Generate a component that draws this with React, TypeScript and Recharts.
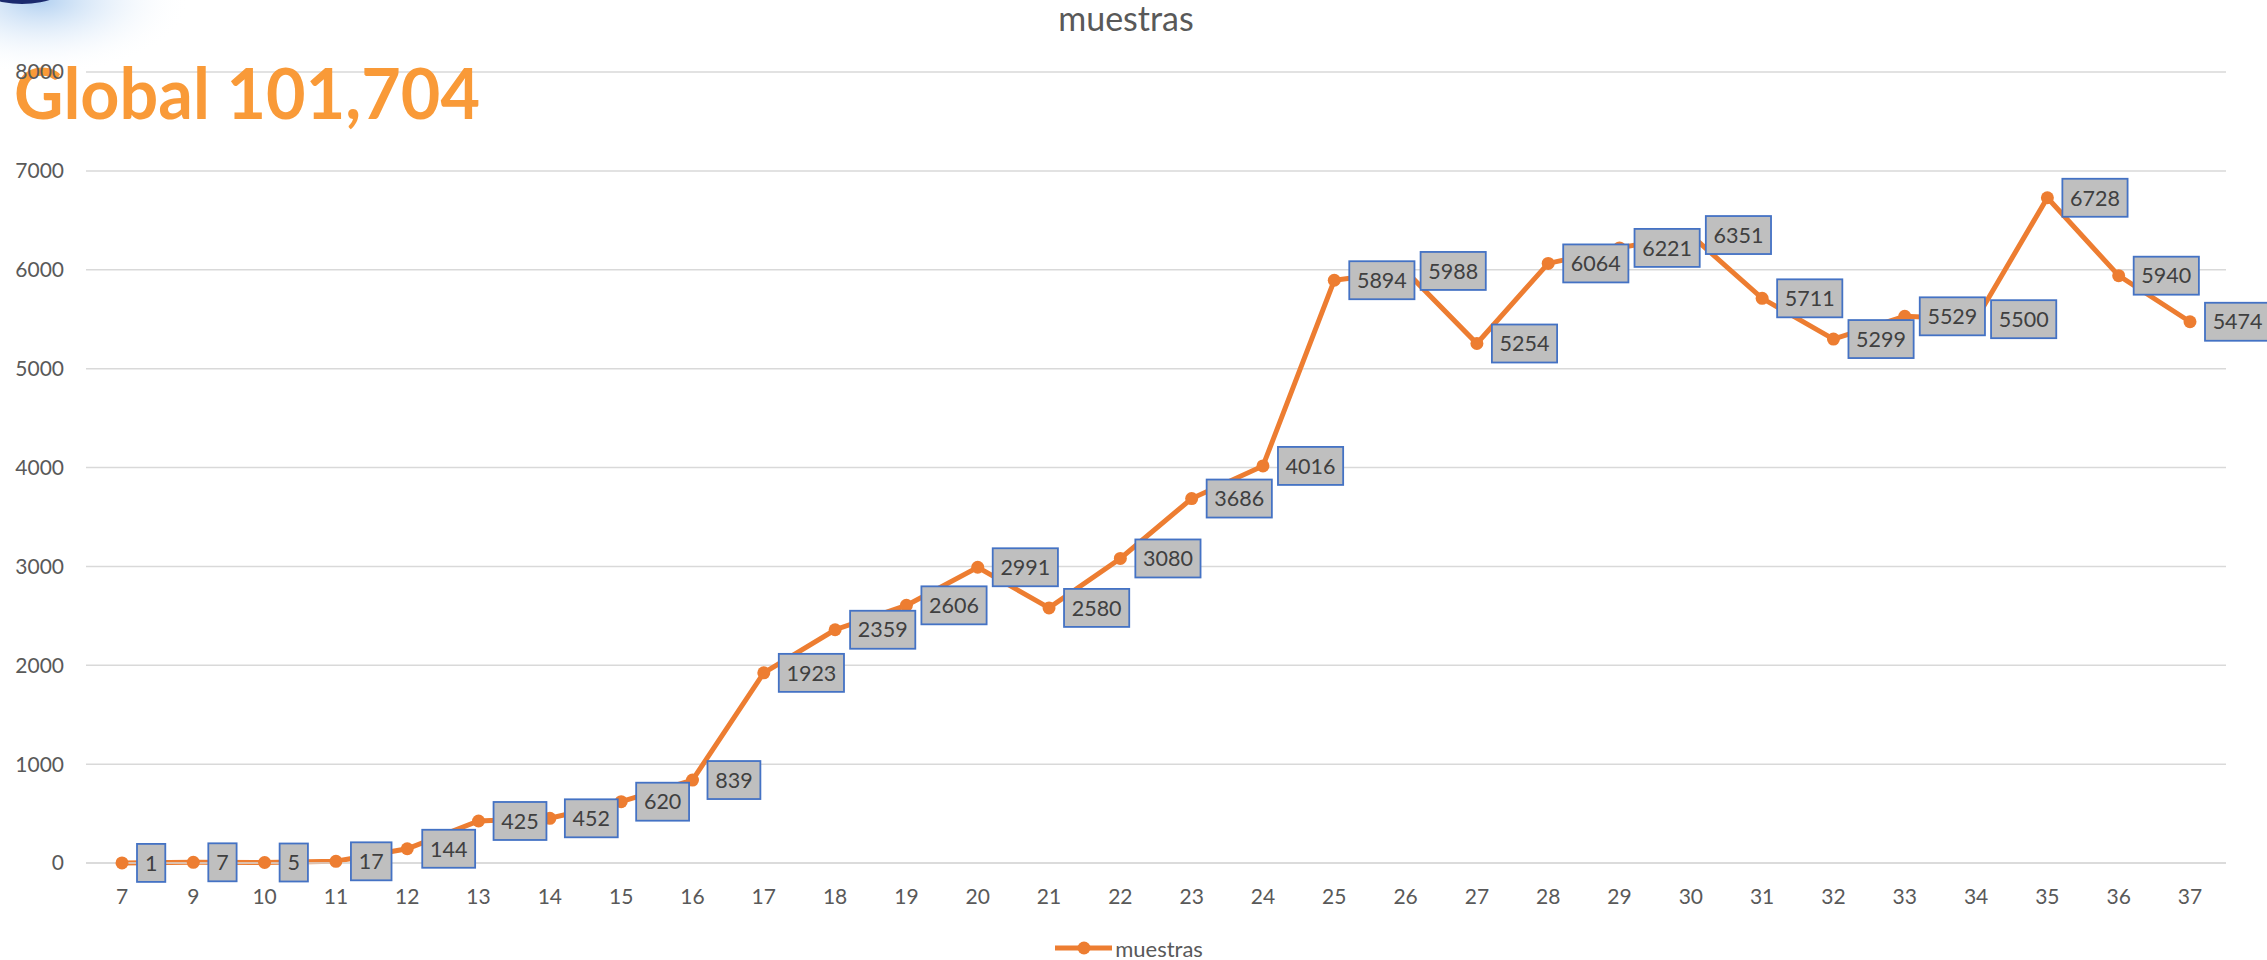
import { LineChart, Line, XAxis, YAxis, CartesianGrid, Legend, LabelList, Customized } from 'recharts';

// semanas epidemiológicas y muestras procesadas
const weeks = ['7', '9', '10', '11', '12', '13', '14', '15', '16', '17', '18', '19', '20', '21', '22', '23', '24', '25', '26', '27', '28', '29', '30', '31', '32', '33', '34', '35', '36', '37'];
const muestras = [1, 7, 5, 17, 144, 425, 452, 620, 839, 1923, 2359, 2606, 2991, 2580, 3080, 3686, 4016, 5894, 5988, 5254, 6064, 6221, 6351, 5711, 5299, 5529, 5500, 6728, 5940, 5474];
const yTicks = [0, 1000, 2000, 3000, 4000, 5000, 6000, 7000, 8000];

const chartTitle = 'muestras';
const globalLabel = 'Global 101,704';

const data = weeks.map((week, i) => ({ week, muestras: muestras[i] }));

const ORANGE = '#ED7D31';
const FONT = 'Lato, "Open Sans", sans-serif';

function ValueBox(props: any) {
  const x = typeof props.x === 'number' ? props.x : props.viewBox?.x;
  const y = typeof props.y === 'number' ? props.y : props.viewBox?.y;
  if (x == null || y == null) return null;
  const text = String(props.value);
  const w = text.length * 12.3 + 16;
  const h = 38;
  const bx = x + 15;
  return (
    <g>
      <rect x={bx} y={y - h / 2} width={w} height={h} fill="#BFBFBF" stroke="#4472C4" strokeWidth={1.8} />
      <text x={bx + w / 2} y={y} dy="0.36em" textAnchor="middle" fontSize={21.5} fill="#404040" fontFamily={FONT}>
        {text}
      </text>
    </g>
  );
}

function LegendBox() {
  return (
    <div style={{ display: 'flex', justifyContent: 'center', alignItems: 'center', height: 24, paddingLeft: 32, fontFamily: FONT, fontSize: 22, color: '#595959' }}>
      <svg width={57} height={14}>
        <line x1={0} y1={7} x2={57} y2={7} stroke={ORANGE} strokeWidth={5} />
        <circle cx={29} cy={7} r={6.5} fill={ORANGE} />
      </svg>
      <span style={{ marginLeft: 3 }}>{chartTitle}</span>
    </div>
  );
}

function Overlay() {
  return (
    <g>
      <defs>
        <radialGradient id="glow" cx="0.5" cy="0.5" r="0.5">
          <stop offset="0%" stopColor="#A9CBEF" stopOpacity={0.9} />
          <stop offset="100%" stopColor="#FFFFFF" stopOpacity={0} />
        </radialGradient>
      </defs>
      <ellipse cx={40} cy={0} rx={150} ry={75} fill="url(#glow)" />
      <ellipse cx={22} cy={-18} rx={48} ry={22} fill="#1B2A6E" />
      <text x={1126} y={31} textAnchor="middle" fontSize={34} fill="#595959" fontFamily={FONT}>
        {chartTitle}
      </text>
      <text x={14} y={119} fontSize={70} fontWeight={700} fill="#F99A38" fontFamily={FONT} textLength={466} lengthAdjust="spacingAndGlyphs">
        {globalLabel}
      </text>
    </g>
  );
}

export default function App() {
  return (
    <div style={{ position: 'absolute', left: 0, top: 0, width: 2267, height: 960, background: '#fff', fontFamily: FONT }}>
      <LineChart width={2267} height={960} data={data} margin={{ top: 72, right: 41, bottom: 0, left: 0 }}>
        <CartesianGrid vertical={false} stroke="#D9D9D9" strokeWidth={1.5} />
        <XAxis
          dataKey="week"
          type="category"
          height={73}
          padding={{ left: 36, right: 36 }}
          interval={0}
          tickLine={false}
          tickSize={0}
          tickMargin={26}
          axisLine={{ stroke: '#D9D9D9', strokeWidth: 1.5 }}
          tick={{ fontSize: 21, fill: '#595959', fontFamily: FONT }}
        />
        <YAxis
          width={86}
          domain={[0, 8000]}
          ticks={yTicks}
          interval={0}
          tickLine={false}
          axisLine={false}
          tickSize={0}
          tickMargin={22}
          tick={{ fontSize: 21, fill: '#595959', fontFamily: FONT }}
        />
        <Legend verticalAlign="bottom" align="center" content={() => <LegendBox />} />
        <Line
          type="linear"
          dataKey="muestras"
          name={chartTitle}
          stroke={ORANGE}
          strokeWidth={5}
          dot={{ r: 6.5, fill: ORANGE, stroke: ORANGE, strokeWidth: 0 }}
          isAnimationActive={false}
        >
          <LabelList dataKey="muestras" content={<ValueBox />} />
        </Line>
        <Customized component={<Overlay />} />
      </LineChart>
    </div>
  );
}
